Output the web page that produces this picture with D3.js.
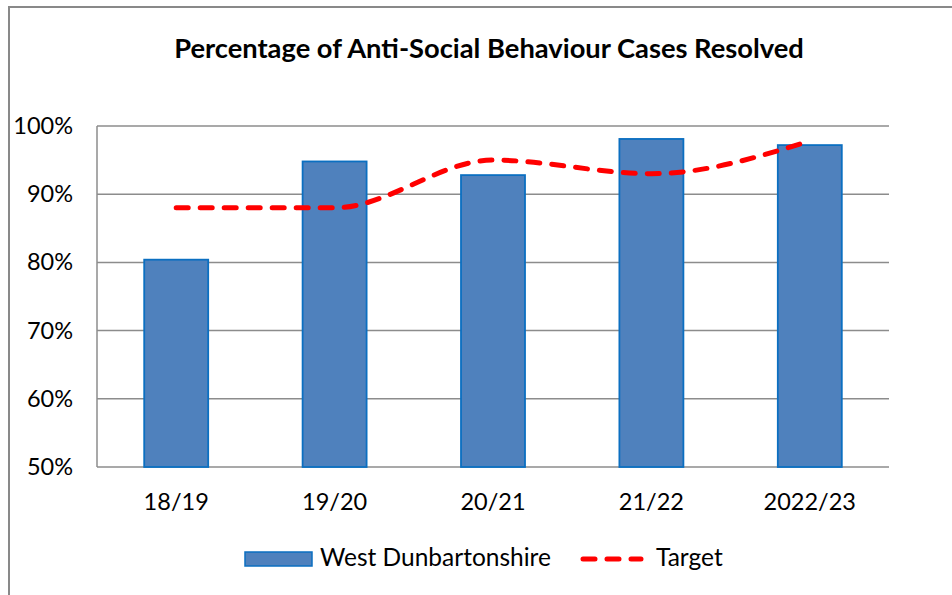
<!DOCTYPE html>
<html><head><meta charset="utf-8">
<script src="https://cdn.jsdelivr.net/npm/d3@7/dist/d3.min.js"></script>
<style>body{margin:0;background:#fff}svg{display:block}</style>
</head><body>
<script>
const categories = ["18/19","19/20","20/21","21/22","2022/23"];
const wdValues = [80.4, 94.8, 92.8, 98.1, 97.2];
const targetValues = [88, 88, 95, 93, 97.8];
const yTicks = [50, 60, 70, 80, 90, 100];
const title = "Percentage of Anti-Social Behaviour Cases Resolved";
const seriesNames = ["West Dunbartonshire", "Target"];

const W = 952, H = 595;
const font = "Lato, 'Open Sans', 'Noto Sans', sans-serif";
const svg = d3.select("body").append("svg").attr("width", W).attr("height", H);

svg.append("rect").attr("x", 9).attr("y", 7).attr("width", W + 20).attr("height", H + 20)
  .attr("fill", "#fff").attr("stroke", "#898989").attr("stroke-width", 2);

const pLeft = 97, pRight = 889, pTop = 126, pBottom = 467;
const x = d3.scaleBand().domain(categories).range([pLeft, pRight]).paddingInner(0.596).paddingOuter(0.298);
const y = d3.scaleLinear().domain([50, 100]).range([pBottom, pTop]);

svg.append("text").attr("x", 489).attr("y", 58).attr("text-anchor", "middle")
  .attr("font-family", font).attr("font-weight", "bold").attr("font-size", 27.3).attr("fill", "#000").text(title);

// gridlines
svg.append("g").selectAll("line").data(yTicks).join("line")
  .attr("x1", pLeft).attr("x2", pRight).attr("y1", d => y(d)).attr("y2", d => y(d))
  .attr("stroke", "#8c8c8c").attr("stroke-width", 1.5);
svg.append("line").attr("x1", pLeft).attr("x2", pLeft).attr("y1", pTop).attr("y2", pBottom)
  .attr("stroke", "#8c8c8c").attr("stroke-width", 1.5);

// y axis labels
const yAxis = d3.axisLeft(y).tickValues(yTicks).tickFormat(d => d + "%").tickSize(0).tickPadding(24);
const gy = svg.append("g").attr("transform", `translate(${pLeft},0)`).call(yAxis);
gy.select(".domain").remove();
gy.selectAll("text").attr("font-family", font).attr("font-size", 23.5).attr("fill", "#000");

// x axis labels
const xAxis = d3.axisBottom(x).tickSize(0).tickPadding(26);
const gx = svg.append("g").attr("transform", `translate(0,${pBottom})`).call(xAxis);
gx.select(".domain").remove();
gx.selectAll("text").attr("font-family", font).attr("font-size", 23.5).attr("fill", "#000");

// bars
svg.append("g").selectAll("rect").data(wdValues).join("rect")
  .attr("x", (d, i) => x(categories[i])).attr("width", x.bandwidth())
  .attr("y", d => y(d)).attr("height", d => pBottom - y(d))
  .attr("fill", "#4F81BD").attr("stroke", "#0B6FC1").attr("stroke-width", 1.8);

// target line
const line = d3.line().x((d, i) => x(categories[i]) + x.bandwidth() / 2).y(d => y(d)).curve(d3.curveMonotoneX);
svg.append("path").datum(targetValues).attr("d", line).attr("fill", "none")
  .attr("stroke", "#FF0000").attr("stroke-width", 5).attr("stroke-linecap", "round")
  .attr("stroke-dasharray", "12,12");

// legend
const lg = svg.append("g");
lg.append("rect").attr("x", 245).attr("y", 552).attr("width", 67).attr("height", 14)
  .attr("fill", "#4F81BD").attr("stroke", "#0B6FC1").attr("stroke-width", 1.5);
lg.append("text").attr("x", 320).attr("y", 566).attr("font-family", font).attr("font-size", 24.5).text(seriesNames[0]);
lg.append("line").attr("x1", 583).attr("x2", 641).attr("y1", 559).attr("y2", 559)
  .attr("stroke", "#FF0000").attr("stroke-width", 5).attr("stroke-linecap", "round").attr("stroke-dasharray", "12,12");
lg.append("text").attr("x", 656).attr("y", 566).attr("font-family", font).attr("font-size", 24.5).text(seriesNames[1]);
</script>
</body></html>
